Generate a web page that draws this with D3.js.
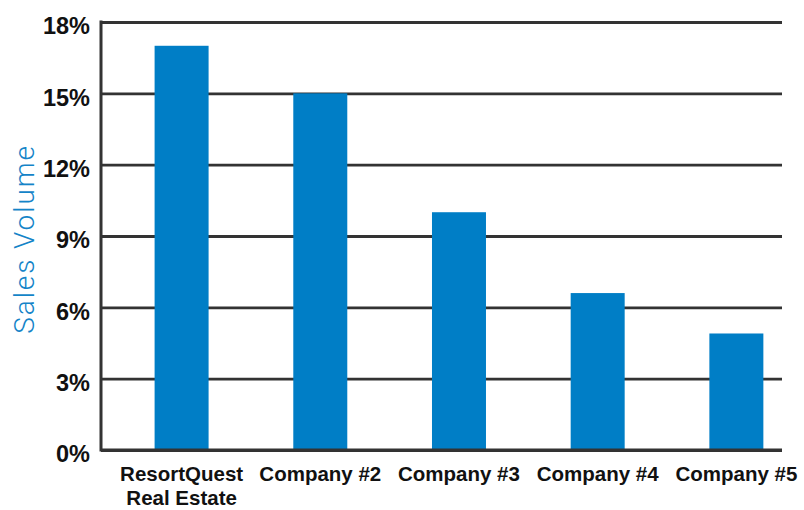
<!DOCTYPE html>
<html>
<head>
<meta charset="utf-8">
<script src="https://cdn.jsdelivr.net/npm/d3@7"></script>
<style>
  html, body { margin: 0; padding: 0; background: #fff; }
  svg { display: block; }
</style>
</head>
<body>
<svg id="chart" width="804" height="510"></svg>
<script>
// ---- data ----
const categories = ["ResortQuest\nReal Estate", "Company #2", "Company #3", "Company #4", "Company #5"];
const salesVolume = [17, 15, 10, 6.6, 4.9];
const yTicks = [0, 3, 6, 9, 12, 15, 18];
const yTitle = "Sales Volume";

// ---- layout ----
const plotLeft = 101, plotRight = 782, plotTop = 22, plotBottom = 450;
const barColor = "#007ec6";
const gridColor = "#333333";

const svg = d3.select("#chart");

const x = d3.scaleBand()
  .domain(categories)
  .range([plotLeft, plotRight])
  .paddingInner(0.6107)
  .paddingOuter(0.2604)
  .align(0.742);

const y = d3.scaleLinear()
  .domain([0, 18])
  .range([plotBottom, plotTop]);

// y axis with gridlines
const yAxis = svg.append("g")
  .attr("transform", `translate(${plotLeft},0)`)
  .call(d3.axisLeft(y)
    .tickValues(yTicks)
    .tickFormat(d => d + "%")
    .tickSize(-(plotRight - plotLeft))
    .tickSizeOuter(0)
    .tickPadding(11));
yAxis.select(".domain").remove();
yAxis.selectAll(".tick line")
  .attr("stroke", gridColor)
  .attr("stroke-width", 2.8);
yAxis.selectAll(".tick text")
  .attr("fill", "#111")
  .attr("dy", "0.5em")
  .style("font-family", "'Liberation Sans', Arial, Helvetica, sans-serif")
  .style("font-weight", "bold")
  .style("font-size", "23.5px");

// bars
svg.append("g")
  .selectAll("rect")
  .data(salesVolume)
  .join("rect")
  .attr("x", (d, i) => x(categories[i]))
  .attr("y", d => y(d))
  .attr("width", x.bandwidth())
  .attr("height", d => y(0) - y(d))
  .attr("fill", barColor);

// left axis line and baseline on top
svg.append("line")
  .attr("x1", plotLeft).attr("x2", plotLeft)
  .attr("y1", y(18) - 1.4).attr("y2", y(0) + 1.4)
  .attr("stroke", gridColor).attr("stroke-width", 3);
svg.append("line")
  .attr("x1", plotLeft).attr("x2", plotRight)
  .attr("y1", y(0)).attr("y2", y(0))
  .attr("stroke", gridColor).attr("stroke-width", 2.8);

// x axis labels
const xAxis = svg.append("g")
  .attr("transform", `translate(0,${plotBottom})`)
  .call(d3.axisBottom(x).tickSize(0).tickPadding(0).tickFormat(""));
xAxis.select(".domain").remove();
xAxis.selectAll(".tick").each(function(d) {
  const t = d3.select(this).append("text")
    .attr("fill", "#111")
    .attr("text-anchor", "middle")
    .style("font-family", "'Liberation Sans', Arial, Helvetica, sans-serif")
    .style("font-weight", "bold")
    .style("font-size", "20.5px");
  d.split("\n").forEach((line, i) => {
    t.append("tspan").attr("x", 0).attr("y", 31 + i * 24).text(line);
  });
});

// y title
svg.append("text")
  .attr("transform", `translate(33.5,239) rotate(-90)`)
  .attr("text-anchor", "middle")
  .attr("fill", "#1484c8")
  .style("font-family", "Roboto, 'Open Sans', sans-serif")
  .style("font-weight", 300)
  .style("font-size", "28px")
  .style("letter-spacing", "1.9px")
  .text(yTitle);
</script>
</body>
</html>
